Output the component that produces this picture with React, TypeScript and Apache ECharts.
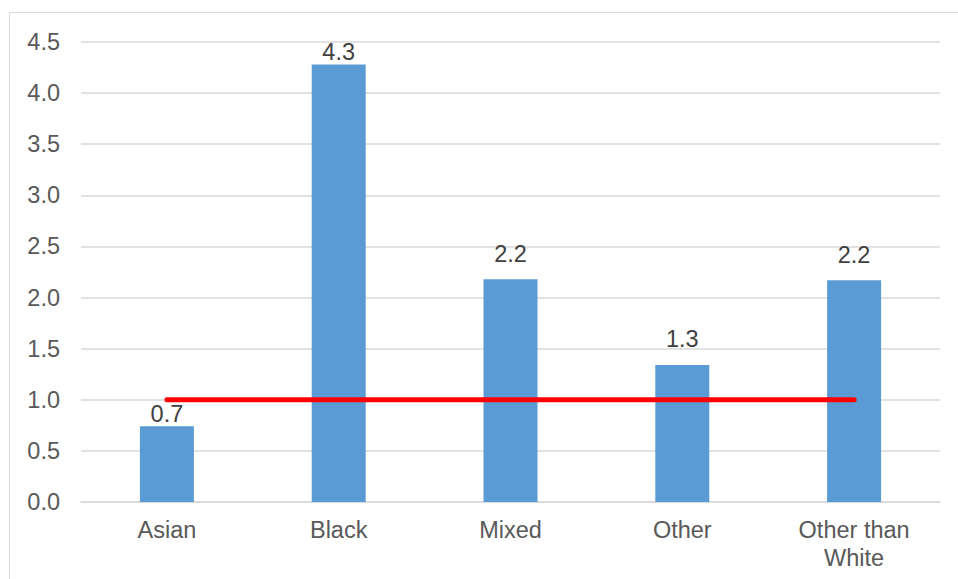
import React, { useEffect, useRef } from "react";
import * as echarts from "echarts";

const categories = ["Asian", "Black", "Mixed", "Other", "Other than\nWhite"];
const ratios = [0.74, 4.28, 2.18, 1.34, 2.17];
const parityLine = [1, 1, 1, 1, 1];
const labelGaps = [0, 0, 13, 14, 13];
const yTicks = { min: 0, max: 4.5, interval: 0.5 };

export default function App() {
  const ref = useRef<HTMLDivElement>(null);

  useEffect(() => {
    if (!ref.current) return;
    const chart = echarts.init(ref.current, null, { renderer: "svg" });
    const font = "'Liberation Sans', Arial, sans-serif";
    const size = 23.5;
    chart.setOption({
      animation: false,
      backgroundColor: "#ffffff",
      graphic: [
        {
          type: "rect",
          shape: { x: 9.5, y: 12.5, width: 1000, height: 600 },
          style: { fill: "none", stroke: "#D9D9D9", lineWidth: 1 },
          silent: true,
        },
      ],
      grid: { left: 81, right: 18, top: 42, bottom: 77, containLabel: false },
      xAxis: {
        type: "category",
        data: categories,
        axisTick: { show: false },
        axisLine: { show: true, lineStyle: { color: "#D9D9D9", width: 1.5 } },
        axisLabel: {
          color: "#595959",
          fontSize: size,
          fontFamily: font,
          margin: 14,
          lineHeight: 28,
        },
      },
      yAxis: {
        type: "value",
        min: yTicks.min,
        max: yTicks.max,
        interval: yTicks.interval,
        axisLine: { show: false },
        axisTick: { show: false },
        splitLine: { lineStyle: { color: "#D9D9D9", width: 1.5 } },
        axisLabel: {
          color: "#595959",
          fontSize: size,
          fontFamily: font,
          margin: 21,
          formatter: (v: number) => v.toFixed(1),
        },
      },
      series: [
        {
          type: "bar",
          barWidth: 54,
          data: ratios.map((v, i) => ({
            value: v,
            label: {
              show: true,
              position: "top",
              distance: labelGaps[i],
              formatter: (p: any) => Number(p.value).toFixed(1),
              color: "#404040",
              fontSize: size,
              fontFamily: font,
            },
          })),
          itemStyle: { color: "#5B9BD5" },
        },
        {
          type: "line",
          data: parityLine,
          showSymbol: false,
          symbol: "none",
          lineStyle: { color: "#FF0000", width: 5, cap: "round" },
          z: 5,
        },
      ],
    });
    return () => chart.dispose();
  }, []);

  return (
    <div
      ref={ref}
      style={{ position: "absolute", left: 0, top: 0, width: 958, height: 579 }}
    />
  );
}
